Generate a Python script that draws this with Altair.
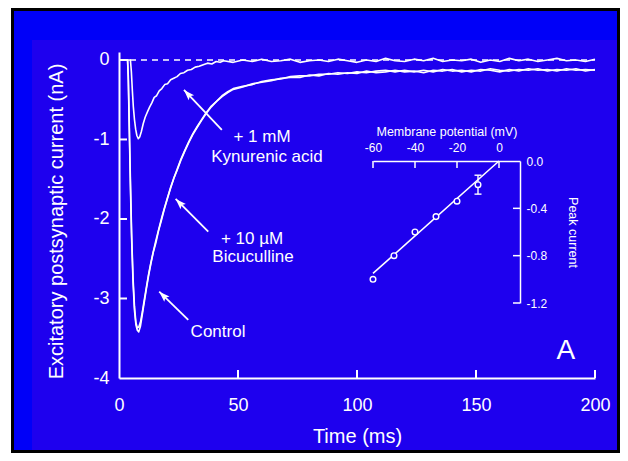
import math
import altair as alt
import pandas as pd

# ---------------- data ----------------
C_T = [0, 3.6, 3.9, 4.3, 4.8, 5.3, 5.9, 6.5, 7.1, 7.7,
       8.3, 9.0, 9.8, 10.6, 11.5, 12.4, 13.4, 14.4, 15.5, 16.6,
       17.8, 19.0, 20.3, 21.6, 23.0, 24.5, 26.0, 27.6, 29.3, 31.0,
       32.8, 34.7, 36.7, 38.8, 41.0, 43.3, 45.7,
       48, 52, 56, 60, 64, 68, 72, 76, 80, 84,
       88, 92, 96, 100, 104, 108, 112, 116, 120, 124,
       128, 132, 136, 140, 144, 148, 152, 156, 160, 164,
       168, 172, 176, 180, 184, 188, 192, 196, 200]
C_I = [0, 0, -0.25, -0.85, -1.6, -2.25, -2.8, -3.15, -3.33, -3.40,
       -3.42, -3.35, -3.20, -3.05, -2.88, -2.72, -2.56, -2.42, -2.30, -2.15,
       -2.02, -1.88, -1.75, -1.62, -1.49, -1.38, -1.26, -1.15, -1.04, -0.94,
       -0.85, -0.76, -0.67, -0.59, -0.52, -0.46, -0.41,
       -0.37, -0.34, -0.30, -0.28, -0.26, -0.23, -0.22, -0.22, -0.19, -0.20,
       -0.17, -0.18, -0.16, -0.17, -0.14, -0.16, -0.15, -0.13, -0.15, -0.14,
       -0.16, -0.13, -0.14, -0.12, -0.15, -0.13, -0.14, -0.11, -0.13, -0.14,
       -0.12, -0.13, -0.11, -0.14, -0.12, -0.13, -0.11, -0.14, -0.12]
B_I = [0, 0, -0.20, -0.78, -1.52, -2.18, -2.74, -3.10, -3.30, -3.37,
       -3.36, -3.30, -3.17, -3.02, -2.86, -2.70, -2.55, -2.41, -2.27, -2.14,
       -2.00, -1.87, -1.74, -1.61, -1.49, -1.37, -1.25, -1.14, -1.03, -0.93,
       -0.84, -0.75, -0.66, -0.58, -0.52, -0.45, -0.40,
       -0.36, -0.33, -0.31, -0.27, -0.25, -0.24, -0.21, -0.20, -0.20, -0.18,
       -0.18, -0.16, -0.17, -0.15, -0.16, -0.14, -0.13, -0.15, -0.13, -0.15,
       -0.13, -0.15, -0.12, -0.14, -0.13, -0.15, -0.12, -0.13, -0.15, -0.12,
       -0.14, -0.11, -0.13, -0.12, -0.14, -0.11, -0.13, -0.12, -0.13]
K_T = [0, 4.8, 5.2, 5.6, 6.0, 6.5, 7.0, 7.5, 8.1, 8.7,
       9.4, 10.2, 11.0, 12.0, 12.9, 13.8, 14.8, 15.8, 16.9, 18.0,
       19.2, 20.4, 21.7, 23.0, 24.4, 25.8, 27.3, 28.8, 30.4, 32.0,
       33.7, 35.4, 37.2, 39.0, 40.8, 42.5,
       44, 48, 52, 56, 60, 64, 68, 72, 76, 80,
       84, 88, 92, 96, 100, 104, 108, 112, 116, 120,
       124, 128, 132, 136, 140, 144, 148, 152, 156, 160,
       164, 168, 172, 176, 180, 184, 188, 192, 196, 200]
K_I = [0, 0, -0.15, -0.38, -0.58, -0.75, -0.87, -0.95, -0.99, -0.97,
       -0.90, -0.80, -0.72, -0.65, -0.59, -0.54, -0.47, -0.45, -0.39, -0.36,
       -0.31, -0.30, -0.25, -0.23, -0.21, -0.17, -0.16, -0.13, -0.12, -0.09,
       -0.08, -0.06, -0.04, -0.05, -0.02, -0.03,
       -0.01, -0.03, 0.00, -0.02, 0.01, -0.02, -0.01, 0.01, -0.03, -0.01,
       0.00, -0.02, 0.01, -0.01, -0.03, 0.00, -0.02, 0.02, -0.01, -0.02,
       0.01, -0.01, 0.02, -0.02, 0.00, -0.01, 0.01, -0.03, 0.00, -0.02,
       0.02, -0.01, 0.01, -0.02, 0.00, 0.02, -0.01, 0.00, -0.02, 0.01]

X_TICKS = [0, 50, 100, 150, 200]
Y_TICKS = [0, -1, -2, -3, -4]

ANN_TEXT = ["+ 1 mM", "Kynurenic acid", "+ 10 \u00b5M", "Bicuculline", "Control"]
ANN_T = [60.1, 62.2, 55.9, 56.3, 41.6]
ANN_I = [-0.97, -1.22, -2.25, -2.48, -3.42]
ARROW_T0 = [43.2, 37.5, 29.1]
ARROW_I0 = [-0.88, -2.16, -3.27]
ARROW_T1 = [27.3, 23.8, 16.9]
ARROW_I1 = [-0.377, -1.748, -2.914]
PANEL_LETTER = "A"
LETTER_T, LETTER_I = 187.8, -3.655

IV_V = [-60, -50, -40, -30, -20, -10]
IV_I = [-1.00, -0.80, -0.60, -0.47, -0.34, -0.20]
FIT_V = [-60, 0]
FIT_I = [-0.95, 0.0]
ERR_V = [-10]
ERR_LO = [-0.28]
ERR_HI = [-0.12]
IX_TICKS = [-60, -40, -20, 0]
IY_TICKS = [0.0, -0.4, -0.8, -1.2]

# ---------------- styling ----------------
W, H = 476, 326
X_DOM = [0, 200]
Y_DOM = [-4, 0.1]
FONT = "Liberation Sans"
OUTER_BLUE = "#0000F8"
INNER_BLUE = "#1E00EE"
WHITE = "#FFFFFF"
ARROW_PATH = "M0,0L0.35,1L0,0.8L-0.35,1Z"

xs = alt.Scale(domain=X_DOM, nice=False, zero=False)
ys = alt.Scale(domain=Y_DOM, nice=False, zero=False)
isx = alt.Scale(domain=[-60, 10], range=[254, 401], nice=False, zero=False)
isy = alt.Scale(domain=[-1.2, 0], range=[251, 109], nice=False, zero=False)

one = pd.DataFrame({"d": [0]})


def frame_rect(x0, x1, y0, y1, color):
    return alt.Chart(one).mark_rect(color=color, strokeWidth=0).encode(
        x=alt.value(x0), x2=alt.value(x1), y=alt.value(y0), y2=alt.value(y1))


bg_black = frame_rect(-108, 501, -44, 401, "#000000")
bg_blue = frame_rect(-105, 498, -41, 398, OUTER_BLUE)
bg_inner = frame_rect(-87, 498, -12, 398, INNER_BLUE)

rows = []
for name, T, I in [("Control", C_T, C_I), ("Bicuculline", C_T, B_I), ("Kynurenic", K_T, K_I)]:
    assert len(T) == len(I), name
    for k, (t, i) in enumerate(zip(T, I)):
        rows.append({"series": name, "t": t, "i": i, "k": k})
traces = pd.DataFrame(rows)

minus_int = "datum.value < 0 ? '-' + format(-datum.value, 'd') : format(datum.value, 'd')"
minus_1f = "datum.value < 0 ? '-' + format(-datum.value, '.1f') : format(datum.value, '.1f')"

x_axis = alt.Axis(orient="bottom", values=X_TICKS, title="Time (ms)", grid=False, zindex=2,
                  ticks=False, domainColor=WHITE, domainWidth=2,
                  labelColor=WHITE, labelFont=FONT, labelFontSize=18, labelPadding=18,
                  labelFlush=False, labelOverlap=False, labelExpr=minus_int,
                  titleColor=WHITE, titleFont=FONT, titleFontSize=20, titleFontWeight="normal",
                  titleBaseline="alphabetic", titleY=64)
y_axis = alt.Axis(orient="left", values=Y_TICKS, title="Excitatory postsynaptic current (nA)",
                  grid=False, zindex=2, ticks=False, domainColor=WHITE, domainWidth=2,
                  labelColor=WHITE, labelFont=FONT, labelFontSize=18, labelPadding=10,
                  labelFlush=False, labelOverlap=False, labelExpr=minus_int,
                  titleColor=WHITE, titleFont=FONT, titleFontSize=20, titleFontWeight="normal",
                  titleAngle=270, titleBaseline="alphabetic", titleAlign="center",
                  titleX=-57, titleY=169)
ix_axis = alt.Axis(orient="top", offset=-109, values=IX_TICKS, title="Membrane potential (mV)",
                   grid=False, zindex=2, ticks=False, domainColor=WHITE, domainWidth=1.5,
                   labelColor=WHITE, labelFont=FONT, labelFontSize=12, labelPadding=7,
                   labelFlush=False, labelOverlap=False, labelExpr=minus_int,
                   titleColor=WHITE, titleFont=FONT, titleFontSize=12.5, titleFontWeight="normal",
                   titleBaseline="alphabetic", titleY=-26)
iy_axis = alt.Axis(orient="right", offset=-75, values=IY_TICKS, title="Peak current",
                   grid=False, zindex=2, ticks=False, domainColor=WHITE, domainWidth=1.5,
                   labelColor=WHITE, labelFont=FONT, labelFontSize=12, labelPadding=6,
                   labelAlign="left", labelFlush=False, labelOverlap=False, labelExpr=minus_1f,
                   titleColor=WHITE, titleFont=FONT, titleFontSize=12.5, titleFontWeight="normal",
                   titleAngle=90, titleBaseline="alphabetic", titleAlign="center", titleX=48)

lines = alt.Chart(traces).mark_line(color=WHITE, strokeWidth=1.6, strokeJoin="round").encode(
    x=alt.X("t:Q", scale=xs, axis=x_axis),
    y=alt.Y("i:Q", scale=ys, axis=y_axis),
    detail="series:N",
    order="k:Q",
)

baseline = alt.Chart(pd.DataFrame({"i": [0.0], "t0": [X_DOM[0]], "t1": [X_DOM[1]]})).mark_rule(
    color=WHITE, strokeWidth=1.5, strokeDash=[6, 5]).encode(
    x=alt.X("t0:Q", scale=xs, axis=None), x2="t1:Q",
    y=alt.Y("i:Q", scale=ys, axis=None))

xt = alt.Chart(pd.DataFrame({"t": X_TICKS[1:]})).mark_rule(color=WHITE, strokeWidth=2).encode(
    x=alt.X("t:Q", scale=xs, axis=None), y=alt.value(H), y2=alt.value(H - 8))
yt = alt.Chart(pd.DataFrame({"i": Y_TICKS[1:-1]})).mark_rule(color=WHITE, strokeWidth=2).encode(
    y=alt.Y("i:Q", scale=ys, axis=None), x=alt.value(0), x2=alt.value(8))

ann = alt.Chart(pd.DataFrame({"label": ANN_TEXT, "t": ANN_T, "i": ANN_I})).mark_text(
    color=WHITE, font=FONT, fontSize=17, align="center", baseline="middle").encode(
    x=alt.X("t:Q", scale=xs, axis=None), y=alt.Y("i:Q", scale=ys, axis=None), text="label:N")

letter = alt.Chart(pd.DataFrame({"label": [PANEL_LETTER], "t": [LETTER_T], "i": [LETTER_I]})).mark_text(
    color=WHITE, font=FONT, fontSize=28, align="center", baseline="middle").encode(
    x=alt.X("t:Q", scale=xs, axis=None), y=alt.Y("i:Q", scale=ys, axis=None), text="label:N")

PXX = W / (X_DOM[1] - X_DOM[0])
PXY = H / (Y_DOM[1] - Y_DOM[0])
shaft_rows, head_rows = [], []
for a, (t0, i0, t1, i1) in enumerate(zip(ARROW_T0, ARROW_I0, ARROW_T1, ARROW_I1)):
    shaft_rows += [{"a": a, "k": 0, "t": t0, "i": i0}, {"a": a, "k": 1, "t": t1, "i": i1}]
    dx = (t1 - t0) * PXX
    dy = -(i1 - i0) * PXY
    ang = math.degrees(math.atan2(dx, -dy)) % 360
    head_rows.append({"t": t1, "i": i1, "ang": ang})

shafts = alt.Chart(pd.DataFrame(shaft_rows)).mark_line(color=WHITE, strokeWidth=1.8).encode(
    x=alt.X("t:Q", scale=xs, axis=None), y=alt.Y("i:Q", scale=ys, axis=None),
    detail="a:N", order="k:Q")
heads = alt.Chart(pd.DataFrame(head_rows)).mark_point(
    shape=ARROW_PATH, filled=True, color=WHITE, opacity=1, size=460, strokeWidth=0).encode(
    x=alt.X("t:Q", scale=xs, axis=None), y=alt.Y("i:Q", scale=ys, axis=None),
    angle=alt.Angle("ang:Q", scale=None))

fit = alt.Chart(pd.DataFrame({"v": FIT_V, "i": FIT_I})).mark_line(color=WHITE, strokeWidth=1.6).encode(
    x=alt.X("v:Q", scale=isx, axis=ix_axis), y=alt.Y("i:Q", scale=isy, axis=iy_axis))
err_df = pd.DataFrame({"v": ERR_V, "lo": ERR_LO, "hi": ERR_HI})
err = alt.Chart(err_df).mark_rule(color=WHITE, strokeWidth=1.4).encode(
    x=alt.X("v:Q", scale=isx, axis=None), y=alt.Y("lo:Q", scale=isy, axis=None), y2="hi:Q")
cap_lo = alt.Chart(err_df).mark_tick(orient="horizontal", color=WHITE, opacity=1, size=7, thickness=1.4).encode(
    x=alt.X("v:Q", scale=isx, axis=None), y=alt.Y("lo:Q", scale=isy, axis=None))
cap_hi = alt.Chart(err_df).mark_tick(orient="horizontal", color=WHITE, opacity=1, size=7, thickness=1.4).encode(
    x=alt.X("v:Q", scale=isx, axis=None), y=alt.Y("hi:Q", scale=isy, axis=None))
pts = alt.Chart(pd.DataFrame({"v": IV_V, "i": IV_I})).mark_point(
    shape="circle", filled=True, fill=INNER_BLUE, stroke=WHITE, strokeWidth=1.4, size=32, opacity=1).encode(
    x=alt.X("v:Q", scale=isx, axis=None), y=alt.Y("i:Q", scale=isy, axis=None))
ixt = alt.Chart(pd.DataFrame({"v": IX_TICKS})).mark_rule(color=WHITE, strokeWidth=1.5).encode(
    x=alt.X("v:Q", scale=isx, axis=None), y=alt.value(109), y2=alt.value(116))
iyt = alt.Chart(pd.DataFrame({"i": IY_TICKS[1:]})).mark_rule(color=WHITE, strokeWidth=1.5).encode(
    y=alt.Y("i:Q", scale=isy, axis=None), x=alt.value(401), x2=alt.value(394))

chart = alt.LayerChart(layer=[
    bg_black, bg_blue, bg_inner, lines, fit, baseline, xt, yt, shafts, heads, ann, letter,
    err, cap_lo, cap_hi, pts, ixt, iyt,
]).resolve_scale(x="independent", y="independent").properties(
    width=W, height=H,
    padding={"left": 111, "top": 44, "right": 25, "bottom": 75},
    autosize=alt.AutoSizeParams(type="none"),
    background="white",
).configure_view(stroke=None).configure(font=FONT)

chart.save("out.html", embed_options={"renderer": "svg", "actions": False})
